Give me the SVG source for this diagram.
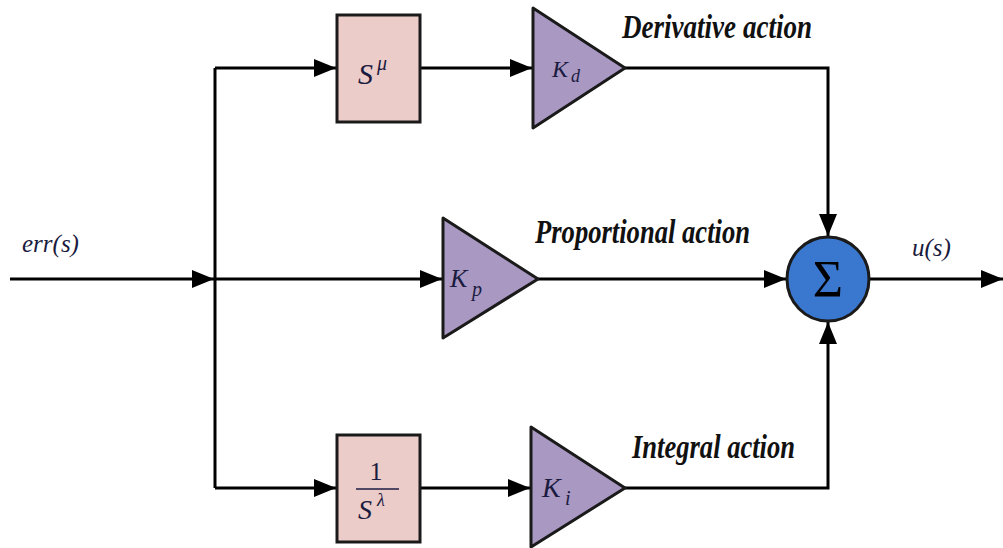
<svg xmlns="http://www.w3.org/2000/svg" width="1003" height="548" viewBox="0 0 1003 548">
  <style>
    .wire { fill: none; stroke: #000; stroke-width: 3; }
    .box { fill: #ecccc9; stroke: #1a1a1a; stroke-width: 3; }
    .gain { fill: #a998c2; stroke: #1a1a1a; stroke-width: 3; stroke-linejoin: round; }
    .sum { fill: #3a77cf; stroke: #1a1a1a; stroke-width: 3; }
    .math { font-family: "Liberation Serif", serif; font-style: italic; fill: #1b1b40; }
    .label { font-family: "Liberation Serif", serif; font-style: italic; font-weight: bold; font-size: 34px; fill: #111; }
  </style>
  <defs>
    <marker id="arrow" viewBox="0 0 22 18" refX="22" refY="9" markerWidth="22" markerHeight="18" markerUnits="userSpaceOnUse" orient="auto">
      <path d="M0,0 L22,9 L0,18 Z" fill="#000"/>
    </marker>
  </defs>

  <rect width="1003" height="548" fill="#fff"/>

  <!-- connectors -->
  <g id="connectors">
    <line class="wire" x1="10" y1="279" x2="214" y2="279" marker-end="url(#arrow)"/>
    <line class="wire" x1="215" y1="68" x2="215" y2="488"/>
    <line class="wire" x1="215" y1="68" x2="336" y2="68" marker-end="url(#arrow)"/>
    <line class="wire" x1="420" y1="68" x2="532" y2="68" marker-end="url(#arrow)"/>
    <line class="wire" x1="215" y1="279" x2="442" y2="279" marker-end="url(#arrow)"/>
    <line class="wire" x1="538" y1="279" x2="786" y2="279" marker-end="url(#arrow)"/>
    <line class="wire" x1="215" y1="488" x2="336" y2="488" marker-end="url(#arrow)"/>
    <line class="wire" x1="420" y1="488" x2="530" y2="488" marker-end="url(#arrow)"/>
    <polyline class="wire" points="625,68 828,68 828,236" marker-end="url(#arrow)"/>
    <polyline class="wire" points="625,488 828,488 828,322" marker-end="url(#arrow)"/>
    <line class="wire" x1="869" y1="279" x2="1003" y2="279" marker-end="url(#arrow)"/>
  </g>

  <!-- fractional differentiator -->
  <g id="diff">
    <rect class="box" x="337" y="15" width="83" height="107"/>
    <text class="math" x="358" y="84" font-size="30">S</text>
    <text class="math" x="377" y="70" font-size="20">μ</text>
  </g>

  <!-- derivative gain -->
  <g id="kd">
    <polygon class="gain" points="533,8 625,68 533,128"/>
    <text class="math" x="552" y="77" font-size="24">K</text>
    <text class="math" x="571" y="82" font-size="18">d</text>
  </g>

  <!-- proportional gain -->
  <g id="kp">
    <polygon class="gain" points="443,218 538,279 443,338"/>
    <text class="math" x="450" y="287" font-size="26">K</text>
    <text class="math" x="472" y="296" font-size="20">p</text>
  </g>

  <!-- fractional integrator -->
  <g id="integ">
    <rect class="box" x="337" y="435" width="83" height="107"/>
    <text x="376" y="480" font-family="Liberation Serif, serif" font-size="26" text-anchor="middle" fill="#1b1b40">1</text>
    <line x1="356" y1="489" x2="399" y2="489" stroke="#1b1b40" stroke-width="1.5"/>
    <text class="math" x="358" y="519" font-size="28">S</text>
    <text class="math" x="377" y="506" font-size="18">λ</text>
  </g>

  <!-- integral gain -->
  <g id="ki">
    <polygon class="gain" points="531,427 625,488 531,547"/>
    <text class="math" x="542" y="497" font-size="28">K</text>
    <text class="math" x="565" y="505" font-size="20">i</text>
  </g>

  <!-- summing junction -->
  <g id="sum">
    <ellipse class="sum" cx="828" cy="279" rx="41" ry="42"/>
    <text x="828" y="297" font-family="Liberation Serif, serif" font-size="52" text-anchor="middle" fill="#000">Σ</text>
  </g>

  <!-- labels -->
  <g id="labels">
    <text class="math" x="22" y="252" font-size="25">err(s)</text>
    <text class="math" x="912" y="256" font-size="25">u(s)</text>
    <text class="label" x="622" y="38" textLength="190" lengthAdjust="spacingAndGlyphs">Derivative action</text>
    <text class="label" x="535" y="243" textLength="215" lengthAdjust="spacingAndGlyphs">Proportional action</text>
    <text class="label" x="632" y="458" textLength="163" lengthAdjust="spacingAndGlyphs">Integral action</text>
  </g>
</svg>
